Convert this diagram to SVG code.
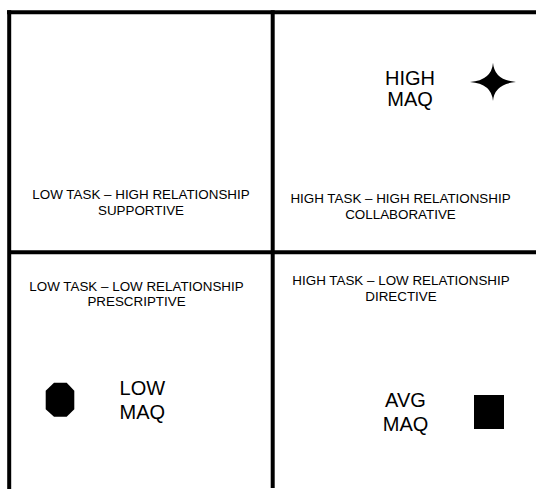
<svg xmlns="http://www.w3.org/2000/svg" width="536" height="489" viewBox="0 0 536 489">
<style>
.ln{stroke:#000;stroke-width:4;fill:none}
.sm{font-family:"Liberation Sans",Arial,sans-serif;font-size:13.4px;fill:#000;text-anchor:middle}
.lg{font-family:"Liberation Sans",Arial,sans-serif;font-size:20px;fill:#000;text-anchor:middle}
</style>
<rect width="536" height="489" fill="#fff"/>
<g id="connectors">
<line class="ln" x1="7" y1="12.3" x2="536" y2="12.3"/>
<line class="ln" x1="9.2" y1="10.3" x2="9.2" y2="489"/>
<line class="ln" x1="272.7" y1="10.3" x2="272.7" y2="488"/>
<line class="ln" x1="9.2" y1="252.3" x2="536" y2="252.3"/>
</g>
<g id="q-supportive">
<text class="sm" x="141" y="199.3">LOW TASK – HIGH RELATIONSHIP</text>
<text class="sm" x="141" y="215">SUPPORTIVE</text>
</g>
<g id="q-collaborative">
<text class="sm" x="400.5" y="203.3">HIGH TASK – HIGH RELATIONSHIP</text>
<text class="sm" x="400.5" y="219">COLLABORATIVE</text>
</g>
<g id="q-prescriptive">
<text class="sm" x="136.5" y="291">LOW TASK – LOW RELATIONSHIP</text>
<text class="sm" x="136.5" y="306">PRESCRIPTIVE</text>
</g>
<g id="q-directive">
<text class="sm" x="401" y="284.5">HIGH TASK – LOW RELATIONSHIP</text>
<text class="sm" x="401" y="300.5">DIRECTIVE</text>
</g>
<g id="high-maq">
<text class="lg" x="410" y="84.7">HIGH</text>
<text class="lg" x="410" y="106">MAQ</text>
<path d="M493 62.7 Q494.3 80.2 516 82 Q494.3 83.8 493 101 Q491.7 83.8 470 82 Q491.7 80.2 493 62.7 Z" fill="#000"/>
</g>
<g id="low-maq">
<text class="lg" x="142.3" y="395.3">LOW</text>
<text class="lg" x="142.3" y="418.7">MAQ</text>
<polygon points="54,382.7 66.7,382.7 74.3,390.7 74.3,409.3 66.7,416.7 54,416.7 45.7,409.3 45.7,390.7" fill="#000"/>
</g>
<g id="avg-maq">
<text class="lg" x="405.5" y="406.7">AVG</text>
<text class="lg" x="405.5" y="431">MAQ</text>
<rect x="474" y="395" width="30" height="34" fill="#000"/>
</g>
</svg>
